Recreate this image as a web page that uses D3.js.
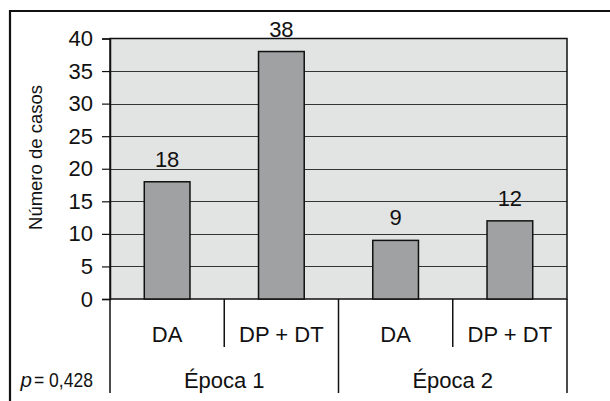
<!DOCTYPE html>
<html>
<head>
<meta charset="utf-8">
<script src="https://cdn.jsdelivr.net/npm/d3@7"></script>
<style>
  html, body { margin: 0; padding: 0; background: #fff; }
  svg { display: block; }
  text { font-family: Arial, "Liberation Sans", sans-serif; fill: #111; }
</style>
</head>
<body>
<svg id="chart" width="610" height="401"></svg>
<script>
// Cases per group and period
const groups = ["DA", "DP + DT"];
const periods = ["Época 1", "Época 2"];
const categories = ["Época 1|DA", "Época 1|DP + DT", "Época 2|DA", "Época 2|DP + DT"];
const values = [18, 38, 9, 12];
const yTicks = [0, 5, 10, 15, 20, 25, 30, 35, 40];
const yTitle = "Número de casos";
const pValue = "0,428";

const svg = d3.select("#chart");
const W = 610, H = 401;

// Outer frame (top and left edges)
svg.append("path")
  .attr("d", `M10,${H} L10,11 L${W},11`)
  .attr("fill", "none").attr("stroke", "#111").attr("stroke-width", 2.2);

const plot = { left: 110, right: 567, top: 38.5, bottom: 299 };

const x = d3.scaleBand().domain(categories)
  .range([plot.left, plot.right]).paddingInner(0.6).paddingOuter(0.3);
const xOuter = d3.scaleBand().domain(categories).range([plot.left, plot.right]);
const xPeriod = d3.scaleBand().domain(periods).range([plot.left, plot.right]);
const y = d3.scaleLinear().domain([0, 40]).range([plot.bottom, plot.top]);

// Plot background
svg.append("rect")
  .attr("x", plot.left).attr("y", plot.top)
  .attr("width", plot.right - plot.left).attr("height", plot.bottom - plot.top)
  .attr("fill", "#e2e3e3");

// Gridlines
svg.append("g").selectAll("line").data(yTicks.filter(t => t > 0 && t < 40)).join("line")
  .attr("x1", plot.left).attr("x2", plot.right)
  .attr("y1", d => Math.round(y(d)) + 0.5).attr("y2", d => Math.round(y(d)) + 0.5)
  .attr("stroke", "#333").attr("stroke-width", 1);

// Plot border
svg.append("rect")
  .attr("x", plot.left).attr("y", plot.top)
  .attr("width", plot.right - plot.left).attr("height", plot.bottom - plot.top)
  .attr("fill", "none").attr("stroke", "#111").attr("stroke-width", 1.5);

// Y axis
const yAxis = d3.axisLeft(y).tickValues(yTicks).tickSize(8).tickPadding(9);
const gy = svg.append("g").attr("transform", `translate(${plot.left},0)`).call(yAxis);
gy.attr("font-size", null).attr("font-family", null);
gy.select(".domain").attr("stroke", "#111").attr("stroke-width", 1.5);
gy.selectAll(".tick line").attr("stroke", "#111").attr("stroke-width", 1.2);
gy.selectAll(".tick text")
  .style("font-size", "22px").attr("fill", "#111");

// Y axis title
svg.append("text")
  .attr("transform", `translate(42,157.5) rotate(-90)`)
  .attr("text-anchor", "middle")
  .style("font-size", "18.5px")
  .text(yTitle);

// Bars
svg.append("g").selectAll("rect").data(values).join("rect")
  .attr("x", (d, i) => x(categories[i]))
  .attr("width", x.bandwidth())
  .attr("y", d => y(d))
  .attr("height", d => y(0) - y(d))
  .attr("fill", "#a0a1a2")
  .attr("stroke", "#111").attr("stroke-width", 1.5);

// Value labels
svg.append("g").selectAll("text").data(values).join("text")
  .attr("x", (d, i) => x(categories[i]) + x.bandwidth() / 2)
  .attr("y", d => y(d) - 15)
  .attr("text-anchor", "middle")
  .style("font-size", "22px")
  .text(d => d);

// Category separators: long ones at period edges, short ones between groups
const longSep = [plot.left, ...periods.map(p => xPeriod(p) + xPeriod.bandwidth())];
svg.append("g").selectAll("line").data(longSep).join("line")
  .attr("x1", d => d).attr("x2", d => d)
  .attr("y1", plot.bottom).attr("y2", 393)
  .attr("stroke", "#111").attr("stroke-width", 1.5);
const shortSep = periods.map(p => xPeriod(p) + xPeriod.bandwidth() / 2);
svg.append("g").selectAll("line").data(shortSep).join("line")
  .attr("x1", d => d).attr("x2", d => d)
  .attr("y1", plot.bottom).attr("y2", 347)
  .attr("stroke", "#111").attr("stroke-width", 1.5);

// Group labels
svg.append("g").selectAll("text").data(categories).join("text")
  .attr("x", d => xOuter(d) + xOuter.bandwidth() / 2)
  .attr("y", 341.5)
  .attr("text-anchor", "middle")
  .style("font-size", "22px")
  .text(d => d.split("|")[1]);

// Period labels
svg.append("g").selectAll("text").data(periods).join("text")
  .attr("x", d => xPeriod(d) + xPeriod.bandwidth() / 2)
  .attr("y", 387.5)
  .attr("text-anchor", "middle")
  .style("font-size", "22px")
  .text(d => d);

// p-value note, set in a condensed width
svg.append("text")
  .attr("x", 20.5).attr("y", 386.7)
  .style("font-size", "20.5px")
  .attr("font-style", "italic")
  .text("p");
svg.append("text")
  .attr("x", 34).attr("y", 386.7)
  .style("font-size", "20.5px")
  .attr("textLength", 59)
  .attr("lengthAdjust", "spacingAndGlyphs")
  .text("= " + pValue);
</script>
</body>
</html>
